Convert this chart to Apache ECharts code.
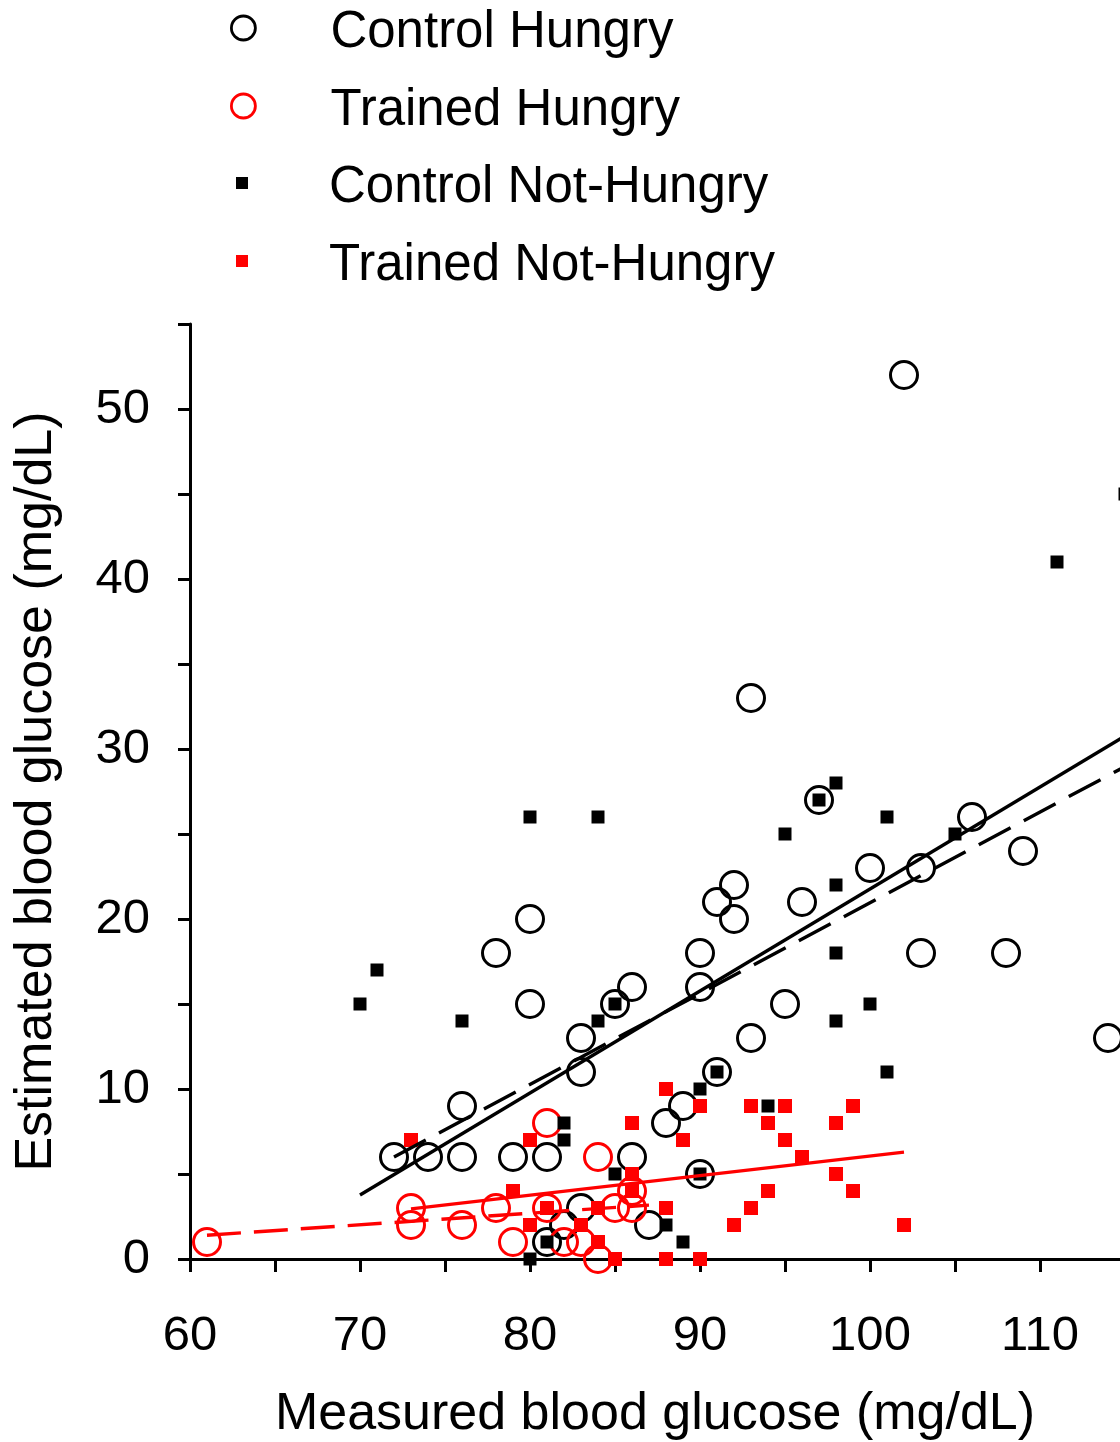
<!DOCTYPE html>
<html>
<head>
<meta charset="utf-8">
<script src="https://cdn.jsdelivr.net/npm/echarts@6/dist/echarts.min.js"></script>
<style>
html,body{margin:0;padding:0;background:#fff;}
#chart{width:1120px;height:1442px;}
</style>
</head>
<body>
<div id="chart"></div>
<script>
// ---- data (mg/dL) ----
const seriesNames = ['Control Hungry', 'Trained Hungry', 'Control Not-Hungry', 'Trained Not-Hungry'];

const controlHungry = [[72,6],[74,6],[76,6],[76,9],[78,18],[79,6],[80,20],[80,15],[81,6],[81,1],[82,2],[83,13],[83,11],[83,3],[85,15],[86,16],[86,6],[87,2],[88,8],[89,9],[90,5],[90,16],[90,18],[91,11],[91,21],[92,22],[92,20],[93,13],[93,33],[95,15],[96,21],[97,27],[100,23],[102,52],[103,23],[103,18],[106,26],[108,18],[109,24],[114,13]];

const trainedHungry = [[61,1],[73,3],[73,2],[76,2],[78,3],[79,1],[81,8],[81,3],[82,1],[83,1],[84,6],[84,0],[85,3],[86,4],[86,3]];

const controlNotHungry = [[70,15],[71,17],[76,14],[80,26],[84,26],[84,14],[85,15],[91,11],[90,10],[82,8],[82,7],[85,5],[90,5],[88,2],[89,1],[81,1],[80,0],[98,28],[101,26],[95,25],[105,25],[98,22],[98,18],[100,15],[98,14],[101,11],[94,9],[111,41],[115,45],[97,27]];

const trainedNotHungry = [[73,7],[79,4],[80,7],[80,2],[81,3],[83,2],[84,1],[84,3],[85,0],[86,8],[86,5],[86,4],[88,10],[88,3],[88,0],[89,7],[90,9],[90,0],[92,2],[93,9],[93,3],[94,8],[94,4],[95,9],[95,7],[96,6],[98,8],[98,5],[99,9],[99,4],[102,2]];

// regression lines (end points)
const fitBlackSolid = [[70,3.76],[116,31.36]];
const fitBlackDashed = [[72,6.0],[116,29.5]];
const fitRedSolid = [[73,2.95],[102,6.29]];
const fitRedDashed = [[61,1.4],[87,3.17]];

const xTicks = [60,70,80,90,100,110];
const yTicks = [0,10,20,30,40,50];

// ---- chart ----
const FONT = 'Liberation Sans';
const RED = '#ff0000';
const chart = echarts.init(document.getElementById('chart'), null, {renderer:'canvas'});

function legendFor(name, left, top, iconH, icon, style) {
  return {
    data: [{name: name, icon: icon}],
    left: left, top: top, padding: 0,
    orient: 'vertical',
    itemWidth: 164, itemHeight: iconH,
    selectedMode: false,
    itemStyle: style,
    formatter: '{a|{name}}',
    textStyle: {fontFamily: FONT, fontSize: 51, color: '#000',
      rich: {a: {fontFamily: FONT, fontSize: 51, color: '#000', height: 51, lineHeight: 61, verticalAlign: 'bottom'}}}
  };
}
const sq = 'path://M0,0L10,0L10,10L0,10Z';

chart.setOption({
  animation: false,
  backgroundColor: '#fff',
  legend: [
    legendFor(seriesNames[0], 230, 7.5, 24, 'circle', {color:'rgba(0,0,0,0)', borderColor:'#000', borderWidth:2.8, opacity:1}),
    legendFor(seriesNames[1], 230, 85.5, 24, 'circle', {color:'rgba(0,0,0,0)', borderColor:RED, borderWidth:2.8, opacity:1}),
    legendFor(seriesNames[2], 236, 162.5, 12, sq, {color:'#000', borderWidth:0, opacity:1}),
    legendFor(seriesNames[3], 236, 240.5, 12, sq, {color:RED, borderWidth:0, opacity:1})
  ],
  grid: {left:190, right:0, top:324, bottom:183, containLabel:false, outerBoundsMode:'none'},
  xAxis: {
    type:'value', min:60, max:60 + 930/17, interval:5,
    name:'Measured blood glucose (mg/dL)', nameLocation:'middle', nameGap:130,
    nameTextStyle:{fontFamily:FONT, fontSize:52, color:'#000'},
    axisLine:{show:true, onZero:false, lineStyle:{color:'#000', width:3}},
    axisTick:{show:true, length:13, lineStyle:{color:'#000', width:3}},
    axisLabel:{margin:53, fontFamily:FONT, fontSize:49, color:'#000', showMaxLabel:false,
      formatter: v => xTicks.indexOf(v) >= 0 ? String(v) : ''},
    splitLine:{show:false}
  },
  yAxis: {
    type:'value', min:0, max:55, interval:5,
    name:'Estimated blood glucose (mg/dL)', nameLocation:'middle', nameGap:127, nameRotate:90,
    nameTextStyle:{fontFamily:FONT, fontSize:52, color:'#000'},
    axisLine:{show:true, lineStyle:{color:'#000', width:3}},
    axisTick:{show:true, length:12, lineStyle:{color:'#000', width:3}},
    axisLabel:{margin:40, fontFamily:FONT, fontSize:49, color:'#000',
      formatter: v => yTicks.indexOf(v) >= 0 ? String(v) : ''},
    splitLine:{show:false}
  },
  series: [
    {name:seriesNames[0], type:'scatter', data:controlHungry, symbol:'circle', symbolSize:27,
      itemStyle:{color:'rgba(0,0,0,0)', borderColor:'#000', borderWidth:3, opacity:1}, z:2},
    {name:seriesNames[1], type:'scatter', data:trainedHungry, symbol:'circle', symbolSize:27,
      itemStyle:{color:'rgba(0,0,0,0)', borderColor:RED, borderWidth:3, opacity:1}, z:2},
    {name:seriesNames[2], type:'scatter', data:controlNotHungry, symbol:'rect', symbolSize:13, clip:false,
      itemStyle:{color:'#000', opacity:1}, z:3},
    {name:seriesNames[3], type:'scatter', data:trainedNotHungry, symbol:'rect', symbolSize:14,
      itemStyle:{color:RED, opacity:1}, z:3},
    {type:'line', data:fitBlackSolid, symbol:'none', silent:true, clip:true,
      lineStyle:{color:'#000', width:3.4, opacity:1}, z:4},
    {type:'line', data:fitBlackDashed, symbol:'none', silent:true, clip:true,
      lineStyle:{color:'#000', width:3.4, opacity:1, type:[36,15]}, z:4},
    {type:'line', data:fitRedSolid, symbol:'none', silent:true,
      lineStyle:{color:RED, width:3.4, opacity:1}, z:4},
    {type:'line', data:fitRedDashed, symbol:'none', silent:true,
      lineStyle:{color:RED, width:3.4, opacity:1, type:[34,13]}, z:4}
  ]
});
</script>
</body>
</html>
